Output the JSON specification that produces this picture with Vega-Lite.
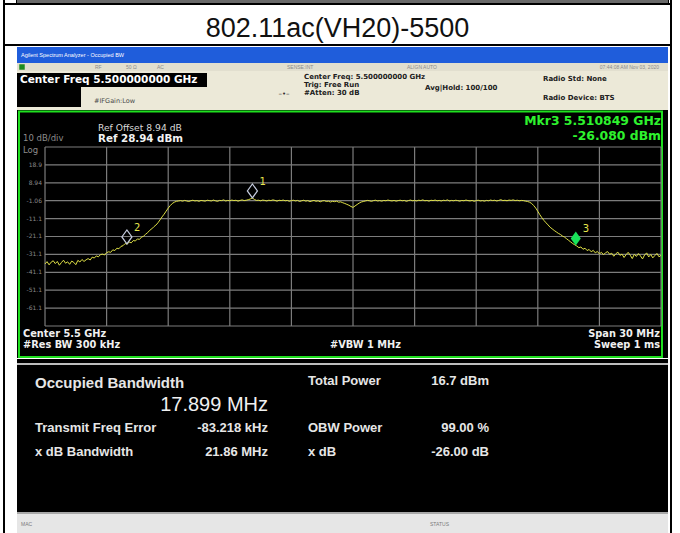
{
"$schema": "https://vega.github.io/schema/vega-lite/v6.json",
"padding": {"left": 3, "top": 0, "right": 0, "bottom": 0},
"background": "white",
"config": {"view": {"stroke": null}, "concat": {"spacing": 0}, "font": "Liberation Sans"},
"datasets": {
 "markers": [
  {"MHz": 5495.1, "dBm": 0.5, "marker": "1"},
  {"MHz": 5488.989, "dBm": -25.2, "marker": "2"},
  {"MHz": 5510.849, "dBm": -26.08, "marker": "3"}
 ],
 "trace": [
{"MHz":5485.0,"dBm":-36.4},{"MHz":5485.1,"dBm":-35.1},{"MHz":5485.2,"dBm":-36.9},{"MHz":5485.3,"dBm":-35.4},{"MHz":5485.4,"dBm":-34.6},
{"MHz":5485.5,"dBm":-36.2},{"MHz":5485.6,"dBm":-35.0},{"MHz":5485.7,"dBm":-37.1},{"MHz":5485.8,"dBm":-35.6},{"MHz":5485.9,"dBm":-34.3},
{"MHz":5486.0,"dBm":-36.0},{"MHz":5486.1,"dBm":-35.2},{"MHz":5486.2,"dBm":-36.6},{"MHz":5486.3,"dBm":-34.8},{"MHz":5486.4,"dBm":-35.5},
{"MHz":5486.5,"dBm":-36.8},{"MHz":5486.6,"dBm":-34.4},{"MHz":5486.7,"dBm":-35.3},{"MHz":5486.8,"dBm":-33.9},{"MHz":5486.9,"dBm":-35.0},
{"MHz":5487.0,"dBm":-34.1},{"MHz":5487.1,"dBm":-33.4},{"MHz":5487.2,"dBm":-34.2},{"MHz":5487.3,"dBm":-32.6},{"MHz":5487.4,"dBm":-33.1},
{"MHz":5487.5,"dBm":-31.9},{"MHz":5487.6,"dBm":-32.4},{"MHz":5487.7,"dBm":-31.2},{"MHz":5487.8,"dBm":-30.9},{"MHz":5487.9,"dBm":-31.4},
{"MHz":5488.0,"dBm":-30.1},{"MHz":5488.1,"dBm":-29.6},{"MHz":5488.2,"dBm":-29.9},{"MHz":5488.3,"dBm":-28.5},{"MHz":5488.4,"dBm":-28.9},
{"MHz":5488.5,"dBm":-27.6},{"MHz":5488.6,"dBm":-27.9},{"MHz":5488.7,"dBm":-26.6},{"MHz":5488.8,"dBm":-26.2},{"MHz":5488.9,"dBm":-25.0},
{"MHz":5489.0,"dBm":-25.3},{"MHz":5489.1,"dBm":-24.2},{"MHz":5489.2,"dBm":-24.6},{"MHz":5489.3,"dBm":-23.3},{"MHz":5489.4,"dBm":-23.6},
{"MHz":5489.5,"dBm":-22.4},{"MHz":5489.6,"dBm":-22.7},{"MHz":5489.7,"dBm":-21.4},{"MHz":5489.8,"dBm":-20.9},{"MHz":5489.9,"dBm":-19.8},
{"MHz":5490.0,"dBm":-18.9},{"MHz":5490.1,"dBm":-17.6},{"MHz":5490.2,"dBm":-16.8},{"MHz":5490.3,"dBm":-15.6},{"MHz":5490.4,"dBm":-14.7},
{"MHz":5490.5,"dBm":-13.4},{"MHz":5490.6,"dBm":-11.8},{"MHz":5490.7,"dBm":-10.1},{"MHz":5490.8,"dBm":-8.6},{"MHz":5490.9,"dBm":-6.9},
{"MHz":5491.0,"dBm":-5.2},{"MHz":5491.1,"dBm":-3.8},{"MHz":5491.2,"dBm":-2.6},{"MHz":5491.3,"dBm":-1.9},{"MHz":5491.4,"dBm":-1.4},
{"MHz":5491.5,"dBm":-1.2},{"MHz":5491.6,"dBm":-1.0},{"MHz":5491.7,"dBm":-1.3},{"MHz":5491.8,"dBm":-0.9},{"MHz":5491.9,"dBm":-1.2},
{"MHz":5492.0,"dBm":-1.5},{"MHz":5492.1,"dBm":-1.1},{"MHz":5492.2,"dBm":-0.8},{"MHz":5492.3,"dBm":-1.2},{"MHz":5492.4,"dBm":-1.0},
{"MHz":5492.5,"dBm":-1.4},{"MHz":5492.6,"dBm":-0.9},{"MHz":5492.7,"dBm":-1.1},{"MHz":5492.8,"dBm":-1.3},{"MHz":5492.9,"dBm":-0.8},
{"MHz":5493.0,"dBm":-1.0},{"MHz":5493.1,"dBm":-1.2},{"MHz":5493.2,"dBm":-0.7},{"MHz":5493.3,"dBm":-1.1},{"MHz":5493.4,"dBm":-1.4},
{"MHz":5493.5,"dBm":-0.9},{"MHz":5493.6,"dBm":-1.0},{"MHz":5493.7,"dBm":-0.6},{"MHz":5493.8,"dBm":-1.2},{"MHz":5493.9,"dBm":-0.9},
{"MHz":5494.0,"dBm":-1.1},{"MHz":5494.1,"dBm":-0.7},{"MHz":5494.2,"dBm":-1.0},{"MHz":5494.3,"dBm":-0.8},{"MHz":5494.4,"dBm":-1.3},
{"MHz":5494.5,"dBm":-0.9},{"MHz":5494.6,"dBm":-0.6},{"MHz":5494.7,"dBm":-1.0},{"MHz":5494.8,"dBm":-0.8},{"MHz":5494.9,"dBm":-0.5},
{"MHz":5495.0,"dBm":-0.1},{"MHz":5495.1,"dBm":0.5},{"MHz":5495.2,"dBm":-0.4},{"MHz":5495.3,"dBm":-0.9},{"MHz":5495.4,"dBm":-0.8},
{"MHz":5495.5,"dBm":-1.1},{"MHz":5495.6,"dBm":-0.7},{"MHz":5495.7,"dBm":-0.9},{"MHz":5495.8,"dBm":-1.2},{"MHz":5495.9,"dBm":-0.8},
{"MHz":5496.0,"dBm":-1.0},{"MHz":5496.1,"dBm":-0.6},{"MHz":5496.2,"dBm":-0.9},{"MHz":5496.3,"dBm":-1.3},{"MHz":5496.4,"dBm":-0.8},
{"MHz":5496.5,"dBm":-1.0},{"MHz":5496.6,"dBm":-0.7},{"MHz":5496.7,"dBm":-1.1},{"MHz":5496.8,"dBm":-0.9},{"MHz":5496.9,"dBm":-1.4},
{"MHz":5497.0,"dBm":-1.0},{"MHz":5497.1,"dBm":-0.8},{"MHz":5497.2,"dBm":-1.2},{"MHz":5497.3,"dBm":-0.9},{"MHz":5497.4,"dBm":-1.5},
{"MHz":5497.5,"dBm":-1.1},{"MHz":5497.6,"dBm":-0.8},{"MHz":5497.7,"dBm":-1.3},{"MHz":5497.8,"dBm":-1.0},{"MHz":5497.9,"dBm":-1.6},
{"MHz":5498.0,"dBm":-1.2},{"MHz":5498.1,"dBm":-0.9},{"MHz":5498.2,"dBm":-1.4},{"MHz":5498.3,"dBm":-1.1},{"MHz":5498.4,"dBm":-1.7},
{"MHz":5498.5,"dBm":-1.2},{"MHz":5498.6,"dBm":-1.0},{"MHz":5498.7,"dBm":-1.5},{"MHz":5498.8,"dBm":-1.3},{"MHz":5498.9,"dBm":-1.8},
{"MHz":5499.0,"dBm":-1.4},{"MHz":5499.1,"dBm":-1.6},{"MHz":5499.2,"dBm":-1.3},{"MHz":5499.3,"dBm":-1.9},{"MHz":5499.4,"dBm":-1.7},
{"MHz":5499.5,"dBm":-2.2},{"MHz":5499.6,"dBm":-2.6},{"MHz":5499.7,"dBm":-3.1},{"MHz":5499.8,"dBm":-3.6},{"MHz":5499.9,"dBm":-4.3},
{"MHz":5500.0,"dBm":-4.8},{"MHz":5500.1,"dBm":-4.0},{"MHz":5500.2,"dBm":-3.2},{"MHz":5500.3,"dBm":-2.4},{"MHz":5500.4,"dBm":-1.8},
{"MHz":5500.5,"dBm":-1.5},{"MHz":5500.6,"dBm":-1.2},{"MHz":5500.7,"dBm":-0.9},{"MHz":5500.8,"dBm":-1.1},{"MHz":5500.9,"dBm":-1.4},
{"MHz":5501.0,"dBm":-1.0},{"MHz":5501.1,"dBm":-0.8},{"MHz":5501.2,"dBm":-1.2},{"MHz":5501.3,"dBm":-1.0},{"MHz":5501.4,"dBm":-1.3},
{"MHz":5501.5,"dBm":-0.9},{"MHz":5501.6,"dBm":-1.1},{"MHz":5501.7,"dBm":-0.7},{"MHz":5501.8,"dBm":-1.0},{"MHz":5501.9,"dBm":-1.2},
{"MHz":5502.0,"dBm":-0.9},{"MHz":5502.1,"dBm":-1.3},{"MHz":5502.2,"dBm":-1.0},{"MHz":5502.3,"dBm":-0.8},{"MHz":5502.4,"dBm":-1.1},
{"MHz":5502.5,"dBm":-0.9},{"MHz":5502.6,"dBm":-1.4},{"MHz":5502.7,"dBm":-1.0},{"MHz":5502.8,"dBm":-0.7},{"MHz":5502.9,"dBm":-1.1},
{"MHz":5503.0,"dBm":-0.9},{"MHz":5503.1,"dBm":-1.2},{"MHz":5503.2,"dBm":-0.8},{"MHz":5503.3,"dBm":-1.0},{"MHz":5503.4,"dBm":-0.6},
{"MHz":5503.5,"dBm":-1.1},{"MHz":5503.6,"dBm":-0.9},{"MHz":5503.7,"dBm":-1.3},{"MHz":5503.8,"dBm":-0.8},{"MHz":5503.9,"dBm":-1.0},
{"MHz":5504.0,"dBm":-0.7},{"MHz":5504.1,"dBm":-1.1},{"MHz":5504.2,"dBm":-0.9},{"MHz":5504.3,"dBm":-1.2},{"MHz":5504.4,"dBm":-0.8},
{"MHz":5504.5,"dBm":-1.0},{"MHz":5504.6,"dBm":-0.6},{"MHz":5504.7,"dBm":-1.2},{"MHz":5504.8,"dBm":-0.9},{"MHz":5504.9,"dBm":-1.1},
{"MHz":5505.0,"dBm":-0.8},{"MHz":5505.1,"dBm":-1.0},{"MHz":5505.2,"dBm":-1.3},{"MHz":5505.3,"dBm":-0.9},{"MHz":5505.4,"dBm":-1.1},
{"MHz":5505.5,"dBm":-0.7},{"MHz":5505.6,"dBm":-1.0},{"MHz":5505.7,"dBm":-1.2},{"MHz":5505.8,"dBm":-0.9},{"MHz":5505.9,"dBm":-1.4},
{"MHz":5506.0,"dBm":-1.0},{"MHz":5506.1,"dBm":-0.8},{"MHz":5506.2,"dBm":-1.2},{"MHz":5506.3,"dBm":-1.0},{"MHz":5506.4,"dBm":-1.3},
{"MHz":5506.5,"dBm":-0.9},{"MHz":5506.6,"dBm":-1.1},{"MHz":5506.7,"dBm":-0.7},{"MHz":5506.8,"dBm":-1.0},{"MHz":5506.9,"dBm":-0.8},
{"MHz":5507.0,"dBm":-1.2},{"MHz":5507.1,"dBm":-0.9},{"MHz":5507.2,"dBm":-0.5},{"MHz":5507.3,"dBm":-1.0},{"MHz":5507.4,"dBm":-0.8},
{"MHz":5507.5,"dBm":-1.1},{"MHz":5507.6,"dBm":-0.7},{"MHz":5507.7,"dBm":-0.9},{"MHz":5507.8,"dBm":-0.6},{"MHz":5507.9,"dBm":-1.0},
{"MHz":5508.0,"dBm":-0.8},{"MHz":5508.1,"dBm":-1.1},{"MHz":5508.2,"dBm":-0.9},{"MHz":5508.3,"dBm":-1.0},{"MHz":5508.4,"dBm":-1.3},
{"MHz":5508.5,"dBm":-1.5},{"MHz":5508.6,"dBm":-1.9},{"MHz":5508.7,"dBm":-2.6},{"MHz":5508.8,"dBm":-3.8},{"MHz":5508.9,"dBm":-5.2},
{"MHz":5509.0,"dBm":-7.0},{"MHz":5509.1,"dBm":-8.9},{"MHz":5509.2,"dBm":-10.6},{"MHz":5509.3,"dBm":-12.1},{"MHz":5509.4,"dBm":-13.4},
{"MHz":5509.5,"dBm":-14.6},{"MHz":5509.6,"dBm":-15.9},{"MHz":5509.7,"dBm":-16.8},{"MHz":5509.8,"dBm":-17.7},{"MHz":5509.9,"dBm":-18.5},
{"MHz":5510.0,"dBm":-19.3},{"MHz":5510.1,"dBm":-19.9},{"MHz":5510.2,"dBm":-20.8},{"MHz":5510.3,"dBm":-21.4},{"MHz":5510.4,"dBm":-22.3},
{"MHz":5510.5,"dBm":-23.2},{"MHz":5510.6,"dBm":-24.1},{"MHz":5510.7,"dBm":-25.0},{"MHz":5510.8,"dBm":-25.7},{"MHz":5510.9,"dBm":-26.4},
{"MHz":5511.0,"dBm":-27.3},{"MHz":5511.1,"dBm":-26.9},{"MHz":5511.2,"dBm":-28.2},{"MHz":5511.3,"dBm":-27.6},{"MHz":5511.4,"dBm":-28.9},
{"MHz":5511.5,"dBm":-28.3},{"MHz":5511.6,"dBm":-29.6},{"MHz":5511.7,"dBm":-28.8},{"MHz":5511.8,"dBm":-30.2},{"MHz":5511.9,"dBm":-29.4},
{"MHz":5512.0,"dBm":-30.8},{"MHz":5512.1,"dBm":-29.9},{"MHz":5512.2,"dBm":-31.3},{"MHz":5512.3,"dBm":-30.1},{"MHz":5512.4,"dBm":-29.5},
{"MHz":5512.5,"dBm":-31.0},{"MHz":5512.6,"dBm":-30.4},{"MHz":5512.7,"dBm":-32.1},{"MHz":5512.8,"dBm":-30.7},{"MHz":5512.9,"dBm":-29.8},
{"MHz":5513.0,"dBm":-31.6},{"MHz":5513.1,"dBm":-30.9},{"MHz":5513.2,"dBm":-32.8},{"MHz":5513.3,"dBm":-31.2},{"MHz":5513.4,"dBm":-29.9},
{"MHz":5513.5,"dBm":-31.5},{"MHz":5513.6,"dBm":-33.4},{"MHz":5513.7,"dBm":-31.0},{"MHz":5513.8,"dBm":-32.2},{"MHz":5513.9,"dBm":-30.6},
{"MHz":5514.0,"dBm":-31.9},{"MHz":5514.1,"dBm":-33.6},{"MHz":5514.2,"dBm":-31.4},{"MHz":5514.3,"dBm":-30.2},{"MHz":5514.4,"dBm":-32.5},
{"MHz":5514.5,"dBm":-31.1},{"MHz":5514.6,"dBm":-33.0},{"MHz":5514.7,"dBm":-31.7},{"MHz":5514.8,"dBm":-30.5},{"MHz":5514.9,"dBm":-32.4},
{"MHz":5515.0,"dBm":-31.6}
 ]
},
"spacing": 0,
"vconcat": [
 {"hconcat": [
   {"width": 2, "height": 3, "view": {"fill": "black", "stroke": null}, "data": {"values": []}, "mark": "text", "encoding": {"text": {"field": "t"}}},
   {"width": 11, "height": 3, "view": {"fill": "white", "stroke": null}, "data": {"values": []}, "mark": "text", "encoding": {"text": {"field": "t"}}},
   {"width": 1, "height": 3, "view": {"fill": "black", "stroke": null}, "data": {"values": []}, "mark": "text", "encoding": {"text": {"field": "t"}}},
   {"width": 651, "height": 3, "view": {"fill": "#6a6a6a", "stroke": null}, "data": {"values": []}, "mark": "text", "encoding": {"text": {"field": "t"}}},
   {"width": 1, "height": 3, "view": {"fill": "black", "stroke": null}, "data": {"values": []}, "mark": "text", "encoding": {"text": {"field": "t"}}},
   {"width": 1, "height": 3, "view": {"fill": "white", "stroke": null}, "data": {"values": []}, "mark": "text", "encoding": {"text": {"field": "t"}}},
   {"width": 2, "height": 3, "view": {"fill": "black", "stroke": null}, "data": {"values": []}, "mark": "text", "encoding": {"text": {"field": "t"}}}
  ], "spacing": 0, "bounds": "flush"},
 {"width": 669, "height": 2, "view": {"fill": "black", "stroke": null}, "data": {"values": []}, "mark": "text", "encoding": {"text": {"field": "t"}}},
 {"hconcat": [
   {"width": 2, "height": 39, "view": {"fill": "black", "stroke": null}, "data": {"values": []}, "mark": "text", "encoding": {"text": {"field": "t"}}},
   {"width": 665, "height": 39,
    "view": {"fill": "white", "stroke": null},
    "data": {"values": [{"title": "802.11ac(VH20)-5500"}]},
    "mark": {"type": "text", "font": "Liberation Sans", "fontSize": 27, "color": "#111111", "dy": 4},
    "encoding": {"text": {"field": "title"}}},
   {"width": 2, "height": 39, "view": {"fill": "black", "stroke": null}, "data": {"values": []}, "mark": "text", "encoding": {"text": {"field": "t"}}}
  ], "spacing": 0, "bounds": "flush"},
 {"width": 669, "height": 2, "view": {"fill": "black", "stroke": null}, "data": {"values": []}, "mark": "text", "encoding": {"text": {"field": "t"}}},
 {
  "hconcat": [
   {"width": 2, "height": 487, "view": {"fill": "black", "stroke": null}, "data": {"values": []}, "mark": "text", "encoding": {"text": {"field": "t"}}},
   {"width": 12, "height": 487, "view": {"fill": "white", "stroke": null}, "data": {"values": []}, "mark": "text", "encoding": {"text": {"field": "t"}}},
   {
    "vconcat": [
     {"width": 651, "height": 1, "view": {"fill": "white", "stroke": null}, "data": {"values": []}, "mark": "text", "encoding": {"text": {"field": "t"}}},
     {"width": 651, "height": 16, "view": {"fill": "#1f5ddb", "stroke": null},
      "data": {"values": [{"text": "Agilent Spectrum Analyzer - Occupied BW", "col": "a"}]},
      "mark": {"type": "text", "align": "left", "font": "Liberation Sans", "fontSize": 5.5, "color": "white"},
      "encoding": {"x": {"field": "col", "type": "nominal", "scale": {"type": "point", "domain": ["a"], "range": [4, 4], "padding": 0}, "axis": null},
                   "text": {"field": "text"}}},
     {"width": 651, "height": 8, "view": {"fill": "#e2dfcf", "stroke": null},
      "resolve": {"scale": {"x": "independent"}},
      "layer": [
       {"data": {"values": [{"item": "icon"}]},
        "mark": {"type": "point", "shape": "square", "filled": true, "color": "#1e8c1e", "size": 30, "opacity": 1},
        "encoding": {"x": {"field": "item", "type": "nominal", "scale": {"type": "point", "domain": ["icon"], "range": [5, 5], "padding": 0}, "axis": null}}},
       {"data": {"values": [{"text": "RF", "col": "a"}, {"text": "50 Ω", "col": "b"}, {"text": "AC", "col": "c"}]},
        "mark": {"type": "text", "align": "left", "fontSize": 5, "color": "#8a8a8a"},
        "encoding": {"x": {"field": "col", "type": "nominal", "scale": {"type": "point", "domain": ["a", "b", "c"], "range": [78, 140], "padding": 0}, "axis": null},
                     "text": {"field": "text"}}},
       {"data": {"values": [{"text": "SENSE:INT", "col": "a"}, {"text": "ALIGN AUTO", "col": "b"}]},
        "mark": {"type": "text", "align": "left", "fontSize": 5, "color": "#8a8a8a"},
        "encoding": {"x": {"field": "col", "type": "nominal", "scale": {"type": "point", "domain": ["a", "b"], "range": [270, 390], "padding": 0}, "axis": null},
                     "text": {"field": "text"}}},
       {"data": {"values": [{"text": "07:44:08 AM Nov 03, 2020", "col": "a"}]},
        "mark": {"type": "text", "align": "right", "fontSize": 5, "color": "#8a8a8a"},
        "encoding": {"x": {"field": "col", "type": "nominal", "scale": {"type": "point", "domain": ["a"], "range": [642, 642], "padding": 0}, "axis": null},
                     "text": {"field": "text"}}}
      ]},
     {
      "hconcat": [
       {
        "vconcat": [
         {"width": 190, "height": 2, "view": {"fill": "#ece9d8", "stroke": null}, "data": {"values": []}, "mark": "text", "encoding": {"text": {"field": "t"}}},
         {"width": 190, "height": 14, "view": {"fill": "black", "stroke": null},
          "data": {"values": [{"text": "Center Freq 5.500000000 GHz", "col": "a"}]},
          "mark": {"type": "text", "align": "left", "font": "DejaVu Sans", "fontSize": 10.5, "fontWeight": "bold", "color": "white"},
          "encoding": {"x": {"field": "col", "type": "nominal", "scale": {"type": "point", "domain": ["a"], "range": [3, 3], "padding": 0}, "axis": null},
                       "text": {"field": "text"}}},
         {"hconcat": [
           {"width": 64, "height": 20, "view": {"fill": "black", "stroke": null}, "data": {"values": []}, "mark": "text", "encoding": {"text": {"field": "t"}}},
           {"width": 126, "height": 20, "view": {"fill": "#ece9d8", "stroke": null},
            "data": {"values": [{"text": "#IFGain:Low", "col": "a"}]},
            "mark": {"type": "text", "align": "left", "font": "DejaVu Sans", "fontSize": 6.5, "color": "#4a4a4a", "dy": 4},
            "encoding": {"x": {"field": "col", "type": "nominal", "scale": {"type": "point", "domain": ["a"], "range": [13, 13], "padding": 0}, "axis": null},
                         "text": {"field": "text"}}}
          ], "spacing": 0, "bounds": "flush"},
         {"width": 190, "height": 3, "view": {"fill": "#ece9d8", "stroke": null}, "data": {"values": []}, "mark": "text", "encoding": {"text": {"field": "t"}}}
        ], "spacing": 0
       },
       {"width": 461, "height": 39, "view": {"fill": "#ece9d8", "stroke": null},
        "resolve": {"scale": {"x": "independent", "y": "independent"}},
        "layer": [
         {"data": {"values": [{"text": "Center Freq: 5.500000000 GHz", "col": "A", "line": "1"}, {"text": "Trig: Free Run", "col": "A", "line": "2"}, {"text": "#Atten: 30 dB", "col": "A", "line": "3"}]},
          "mark": {"type": "text", "align": "left", "font": "DejaVu Sans", "fontSize": 7, "fontWeight": "bold", "color": "#202020"},
          "encoding": {"x": {"field": "col", "type": "nominal", "scale": {"type": "point", "domain": ["A"], "range": [97, 97], "padding": 0}, "axis": null},
                       "y": {"field": "line", "type": "ordinal", "scale": {"type": "point", "domain": ["1", "2", "3"], "range": [6, 22], "padding": 0}, "axis": null},
                       "text": {"field": "text"}}},
         {"data": {"values": [{"text": "Avg|Hold: 100/100", "col": "B", "line": "1"}]},
          "mark": {"type": "text", "align": "left", "font": "DejaVu Sans", "fontSize": 7, "fontWeight": "bold", "color": "#202020"},
          "encoding": {"x": {"field": "col", "type": "nominal", "scale": {"type": "point", "domain": ["B"], "range": [218, 218], "padding": 0}, "axis": null},
                       "y": {"field": "line", "type": "ordinal", "scale": {"type": "point", "domain": ["1"], "range": [17, 17], "padding": 0}, "axis": null},
                       "text": {"field": "text"}}},
         {"data": {"values": [{"text": "Radio Std: None", "col": "C", "line": "1"}, {"text": "Radio Device: BTS", "col": "C", "line": "2"}]},
          "mark": {"type": "text", "align": "left", "font": "DejaVu Sans", "fontSize": 7, "fontWeight": "bold", "color": "#202020"},
          "encoding": {"x": {"field": "col", "type": "nominal", "scale": {"type": "point", "domain": ["C"], "range": [336, 336], "padding": 0}, "axis": null},
                       "y": {"field": "line", "type": "ordinal", "scale": {"type": "point", "domain": ["1", "2"], "range": [8, 27], "padding": 0}, "axis": null},
                       "text": {"field": "text"}}},
         {"data": {"values": [{"text": "–•–", "col": "T", "line": "1"}]},
          "mark": {"type": "text", "font": "DejaVu Sans", "fontSize": 7, "color": "#303030"},
          "encoding": {"x": {"field": "col", "type": "nominal", "scale": {"type": "point", "domain": ["T"], "range": [77, 77], "padding": 0}, "axis": null},
                       "y": {"field": "line", "type": "ordinal", "scale": {"type": "point", "domain": ["1"], "range": [23, 23], "padding": 0}, "axis": null},
                       "text": {"field": "text"}}}
        ]}
      ], "spacing": 0
     },
     {
      "hconcat": [
       {"width": 646, "height": 248,
        "view": {"fill": "black", "stroke": null},
        "layer": [
         {"data": {"values": [{"frame": "outer"}]},
          "mark": {"type": "rect", "filled": false, "stroke": "#1fe01f", "strokeWidth": 2},
          "encoding": {"x": {"datum": 5483.7334, "type": "quantitative", "scale": {"domain": [5483.636, 5515.097], "nice": false, "zero": false}, "axis": null},
                       "x2": {"datum": 5515.048},
                       "y": {"datum": 48.77, "type": "quantitative", "scale": {"domain": [-88.937, 49.61], "nice": false, "zero": false}, "axis": null},
                       "y2": {"datum": -88.38}}},
         {"data": {"values": [{"MHz": 5485}, {"MHz": 5488}, {"MHz": 5491}, {"MHz": 5494}, {"MHz": 5497}, {"MHz": 5500}, {"MHz": 5503}, {"MHz": 5506}, {"MHz": 5509}, {"MHz": 5512}, {"MHz": 5515}]},
          "mark": {"type": "rule", "color": "#7c7c7c", "strokeWidth": 1.2},
          "encoding": {"x": {"field": "MHz", "type": "quantitative", "scale": {"domain": [5483.636, 5515.097], "nice": false, "zero": false}, "axis": null},
                       "y": {"datum": 28.94, "type": "quantitative", "scale": {"domain": [-88.937, 49.61], "nice": false, "zero": false}, "axis": null},
                       "y2": {"datum": -71.06}}},
         {"data": {"values": [{"dBm": 28.94}, {"dBm": 18.94}, {"dBm": 8.94}, {"dBm": -1.06}, {"dBm": -11.06}, {"dBm": -21.06}, {"dBm": -31.06}, {"dBm": -41.06}, {"dBm": -51.06}, {"dBm": -61.06}, {"dBm": -71.06}]},
          "mark": {"type": "rule", "color": "#7c7c7c", "strokeWidth": 1.2},
          "encoding": {"y": {"field": "dBm", "type": "quantitative", "scale": {"domain": [-88.937, 49.61], "nice": false, "zero": false}, "axis": null},
                       "x": {"datum": 5485, "type": "quantitative", "scale": {"domain": [5483.636, 5515.097], "nice": false, "zero": false}, "axis": null},
                       "x2": {"datum": 5515}}},
         {"data": {"values": [{"dBm": 18.94, "label": "18.9"}, {"dBm": 8.94, "label": "8.94"}, {"dBm": -1.06, "label": "-1.06"}, {"dBm": -11.06, "label": "-11.1"}, {"dBm": -21.06, "label": "-21.1"}, {"dBm": -31.06, "label": "-31.1"}, {"dBm": -41.06, "label": "-41.1"}, {"dBm": -51.06, "label": "-51.1"}, {"dBm": -61.06, "label": "-61.1"}]},
          "mark": {"type": "text", "align": "right", "dx": -3, "font": "DejaVu Sans", "fontSize": 6, "color": "#8a8a8a"},
          "encoding": {"y": {"field": "dBm", "type": "quantitative", "scale": {"domain": [-88.937, 49.61], "nice": false, "zero": false}, "axis": null},
                       "x": {"datum": 5485, "type": "quantitative", "scale": {"domain": [5483.636, 5515.097], "nice": false, "zero": false}, "axis": null},
                       "text": {"field": "label"}}},
         {"data": {"name": "trace"},
          "mark": {"type": "line", "color": "#dfe046", "strokeWidth": 1},
          "encoding": {"x": {"field": "MHz", "type": "quantitative", "scale": {"domain": [5483.636, 5515.097], "nice": false, "zero": false}, "axis": null},
                       "y": {"field": "dBm", "type": "quantitative", "scale": {"domain": [-88.937, 49.61], "nice": false, "zero": false}, "axis": null}}},
         {"data": {"name": "markers"},
          "transform": [{"filter": "datum.marker != '3'"}],
          "mark": {"type": "point", "shape": "M0,0L-0.36,-0.5L0,-1L0.36,-0.5Z", "size": 784, "filled": false, "color": "#c6cde0", "strokeWidth": 1.2, "opacity": 1},
          "encoding": {"x": {"field": "MHz", "type": "quantitative", "scale": {"domain": [5483.636, 5515.097], "nice": false, "zero": false}, "axis": null},
                       "y": {"field": "dBm", "type": "quantitative", "scale": {"domain": [-88.937, 49.61], "nice": false, "zero": false}, "axis": null}}},
         {"data": {"name": "markers"},
          "transform": [{"filter": "datum.marker == '3'"}],
          "mark": {"type": "point", "shape": "M0,0L-0.36,-0.5L0,-1L0.36,-0.5Z", "size": 784, "filled": true, "color": "#19e35a", "opacity": 1},
          "encoding": {"x": {"field": "MHz", "type": "quantitative", "scale": {"domain": [5483.636, 5515.097], "nice": false, "zero": false}, "axis": null},
                       "y": {"field": "dBm", "type": "quantitative", "scale": {"domain": [-88.937, 49.61], "nice": false, "zero": false}, "axis": null}}},
         {"data": {"name": "markers"},
          "mark": {"type": "text", "align": "left", "dx": 7, "dy": -16, "font": "DejaVu Sans", "fontSize": 10, "color": "#e6e64c"},
          "encoding": {"x": {"field": "MHz", "type": "quantitative", "scale": {"domain": [5483.636, 5515.097], "nice": false, "zero": false}, "axis": null},
                       "y": {"field": "dBm", "type": "quantitative", "scale": {"domain": [-88.937, 49.61], "nice": false, "zero": false}, "axis": null},
                       "text": {"field": "marker"}}},
         {"data": {"values": [{"MHz": 5487.58, "dBm": 39.39, "text": "Ref Offset 8.94 dB"}]},
          "mark": {"type": "text", "align": "left", "font": "DejaVu Sans", "fontSize": 9.2, "color": "#d8d8d8"},
          "encoding": {"x": {"field": "MHz", "type": "quantitative", "scale": {"domain": [5483.636, 5515.097], "nice": false, "zero": false}, "axis": null},
                       "y": {"field": "dBm", "type": "quantitative", "scale": {"domain": [-88.937, 49.61], "nice": false, "zero": false}, "axis": null},
                       "text": {"field": "text"}}},
         {"data": {"values": [{"MHz": 5487.58, "dBm": 33.13, "text": "Ref 28.94 dBm"}]},
          "mark": {"type": "text", "align": "left", "font": "DejaVu Sans", "fontSize": 10.3, "fontWeight": "bold", "color": "#f2f2f2"},
          "encoding": {"x": {"field": "MHz", "type": "quantitative", "scale": {"domain": [5483.636, 5515.097], "nice": false, "zero": false}, "axis": null},
                       "y": {"field": "dBm", "type": "quantitative", "scale": {"domain": [-88.937, 49.61], "nice": false, "zero": false}, "axis": null},
                       "text": {"field": "text"}}},
         {"data": {"values": [{"MHz": 5483.93, "dBm": 33.97, "text": "10 dB/div"}, {"MHz": 5483.93, "dBm": 27.54, "text": "Log"}]},
          "mark": {"type": "text", "align": "left", "font": "DejaVu Sans", "fontSize": 8.5, "color": "#8c8c8c"},
          "encoding": {"x": {"field": "MHz", "type": "quantitative", "scale": {"domain": [5483.636, 5515.097], "nice": false, "zero": false}, "axis": null},
                       "y": {"field": "dBm", "type": "quantitative", "scale": {"domain": [-88.937, 49.61], "nice": false, "zero": false}, "axis": null},
                       "text": {"field": "text"}}},
         {"data": {"values": [{"MHz": 5515.0, "dBm": 43.46, "text": "Mkr3  5.510849 GHz"}, {"MHz": 5515.0, "dBm": 34.81, "text": "-26.080 dBm"}]},
          "mark": {"type": "text", "align": "right", "font": "DejaVu Sans", "fontSize": 12.4, "fontWeight": "bold", "color": "#2ef22e"},
          "encoding": {"x": {"field": "MHz", "type": "quantitative", "scale": {"domain": [5483.636, 5515.097], "nice": false, "zero": false}, "axis": null},
                       "y": {"field": "dBm", "type": "quantitative", "scale": {"domain": [-88.937, 49.61], "nice": false, "zero": false}, "axis": null},
                       "text": {"field": "text"}}},
         {"data": {"values": [{"MHz": 5483.93, "dBm": -75.7, "text": "Center  5.5 GHz"}, {"MHz": 5483.93, "dBm": -81.79, "text": "#Res BW  300 kHz"}, {"MHz": 5498.88, "dBm": -81.79, "text": "#VBW  1 MHz"}]},
          "mark": {"type": "text", "align": "left", "font": "DejaVu Sans", "fontSize": 9.8, "fontWeight": "bold", "color": "#f0f0f0"},
          "encoding": {"x": {"field": "MHz", "type": "quantitative", "scale": {"domain": [5483.636, 5515.097], "nice": false, "zero": false}, "axis": null},
                       "y": {"field": "dBm", "type": "quantitative", "scale": {"domain": [-88.937, 49.61], "nice": false, "zero": false}, "axis": null},
                       "text": {"field": "text"}}},
         {"data": {"values": [{"MHz": 5514.95, "dBm": -75.7, "text": "Span 30 MHz"}, {"MHz": 5514.95, "dBm": -81.79, "text": "Sweep  1 ms"}]},
          "mark": {"type": "text", "align": "right", "font": "DejaVu Sans", "fontSize": 9.8, "fontWeight": "bold", "color": "#f0f0f0"},
          "encoding": {"x": {"field": "MHz", "type": "quantitative", "scale": {"domain": [5483.636, 5515.097], "nice": false, "zero": false}, "axis": null},
                       "y": {"field": "dBm", "type": "quantitative", "scale": {"domain": [-88.937, 49.61], "nice": false, "zero": false}, "axis": null},
                       "text": {"field": "text"}}}
        ]},
       {"width": 5, "height": 248, "view": {"fill": "black", "stroke": null}, "data": {"values": []}, "mark": "text", "encoding": {"text": {"field": "t"}}}
      ], "spacing": 0, "bounds": "flush"
     },
     {"width": 651, "height": 4, "view": {"fill": "black", "stroke": null}, "data": {"values": []}, "mark": "text", "encoding": {"text": {"field": "t"}}},
     {"width": 651, "height": 2, "view": {"fill": "#bdbdbd", "stroke": null}, "data": {"values": []}, "mark": "text", "encoding": {"text": {"field": "t"}}},
     {"width": 651, "height": 147, "view": {"fill": "black", "stroke": null},
      "resolve": {"scale": {"x": "independent"}},
      "layer": [
       {"data": {"values": [{"text": "Occupied Bandwidth", "col": "left", "line": "1"}]},
        "mark": {"type": "text", "align": "left", "font": "Liberation Sans", "fontSize": 15, "fontWeight": "bold", "color": "#e6e6e6", "dy": 2},
        "encoding": {"x": {"field": "col", "type": "nominal", "scale": {"type": "point", "domain": ["left", "right"], "range": [18, 291], "padding": 0}, "axis": null},
                     "y": {"field": "line", "type": "ordinal", "scale": {"type": "point", "domain": ["1", "2", "3", "4"], "range": [16, 87], "padding": 0}, "axis": null},
                     "text": {"field": "text"}}},
       {"data": {"values": [{"text": "17.899 MHz", "col": "left", "line": "2"}]},
        "mark": {"type": "text", "align": "right", "font": "Liberation Sans", "fontSize": 20, "color": "#f0f0f0"},
        "encoding": {"x": {"field": "col", "type": "nominal", "scale": {"type": "point", "domain": ["left", "right"], "range": [251, 472], "padding": 0}, "axis": null},
                     "y": {"field": "line", "type": "ordinal", "scale": {"type": "point", "domain": ["1", "2", "3", "4"], "range": [16, 87], "padding": 0}, "axis": null},
                     "text": {"field": "text"}}},
       {"data": {"values": [
          {"text": "Transmit Freq Error", "col": "left", "line": "3"},
          {"text": "x dB Bandwidth", "col": "left", "line": "4"},
          {"text": "Total Power", "col": "right", "line": "1"},
          {"text": "OBW Power", "col": "right", "line": "3"},
          {"text": "x dB", "col": "right", "line": "4"}]},
        "mark": {"type": "text", "align": "left", "font": "Liberation Sans", "fontSize": 13, "fontWeight": "bold", "color": "#e6e6e6"},
        "encoding": {"x": {"field": "col", "type": "nominal", "scale": {"type": "point", "domain": ["left", "right"], "range": [18, 291], "padding": 0}, "axis": null},
                     "y": {"field": "line", "type": "ordinal", "scale": {"type": "point", "domain": ["1", "2", "3", "4"], "range": [16, 87], "padding": 0}, "axis": null},
                     "text": {"field": "text"}}},
       {"data": {"values": [
          {"text": "-83.218 kHz", "col": "left", "line": "3"},
          {"text": "21.86 MHz", "col": "left", "line": "4"},
          {"text": "16.7 dBm", "col": "right", "line": "1"},
          {"text": "99.00 %", "col": "right", "line": "3"},
          {"text": "-26.00 dB", "col": "right", "line": "4"}]},
        "mark": {"type": "text", "align": "right", "font": "Liberation Sans", "fontSize": 13, "fontWeight": "bold", "color": "#e6e6e6"},
        "encoding": {"x": {"field": "col", "type": "nominal", "scale": {"type": "point", "domain": ["left", "right"], "range": [251, 472], "padding": 0}, "axis": null},
                     "y": {"field": "line", "type": "ordinal", "scale": {"type": "point", "domain": ["1", "2", "3", "4"], "range": [16, 87], "padding": 0}, "axis": null},
                     "text": {"field": "text"}}}
      ]},
     {"width": 651, "height": 2, "view": {"fill": "#a8a8a8", "stroke": null}, "data": {"values": []}, "mark": "text", "encoding": {"text": {"field": "t"}}},
     {"width": 651, "height": 20, "view": {"fill": "#e6e6e6", "stroke": null},
      "data": {"values": [{"text": "MAC", "col": "a"}, {"text": "STATUS", "col": "b"}]},
      "mark": {"type": "text", "align": "left", "font": "Liberation Sans", "fontSize": 5, "color": "#7a7a7a"},
      "encoding": {"x": {"field": "col", "type": "nominal", "scale": {"type": "point", "domain": ["a", "b"], "range": [4, 413], "padding": 0}, "axis": null},
                   "text": {"field": "text"}}}
    ], "spacing": 0
   },
   {"width": 2, "height": 487, "view": {"fill": "white", "stroke": null}, "data": {"values": []}, "mark": "text", "encoding": {"text": {"field": "t"}}},
   {"width": 2, "height": 487, "view": {"fill": "black", "stroke": null}, "data": {"values": []}, "mark": "text", "encoding": {"text": {"field": "t"}}}
  ],
  "spacing": 0
 }
]
}
